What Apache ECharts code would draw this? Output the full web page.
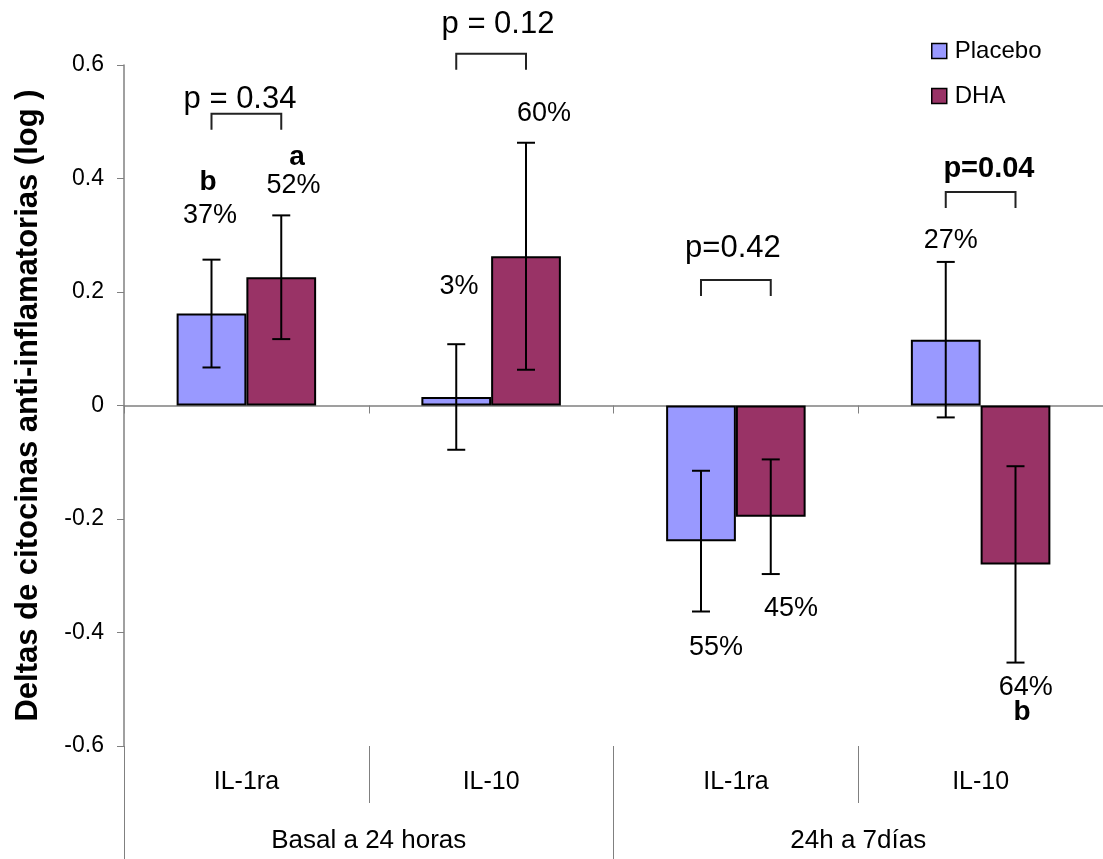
<!DOCTYPE html>
<html>
<head>
<meta charset="utf-8">
<script src="https://cdn.jsdelivr.net/npm/echarts@6/dist/echarts.min.js"></script>
<style>
  html, body { margin: 0; padding: 0; background: #fff; }
  #chart { width: 1103px; height: 859px; }
</style>
</head>
<body>
<div id="chart"></div>
<script>
// data
var cytokines = ['IL-1ra', 'IL-10', 'IL-1ra', 'IL-10'];
var periods = ['Basal a 24 horas', '24h a 7días'];
var yTicks = [-0.6, -0.4, -0.2, 0, 0.2, 0.4, 0.6];
var placebo = [0.162, 0.015, -0.239, 0.116];
var dha = [0.226, 0.263, -0.196, -0.280];
var placeboErr = [0.095, 0.093, 0.124, 0.137];
var dhaErr = [0.109, 0.200, 0.101, 0.173];
var pctPlacebo = ['37%', '3%', '55%', '27%'];
var pctDha = ['52%', '60%', '45%', '64%'];
var pValues = ['p = 0.34', 'p = 0.12', 'p=0.42', 'p=0.04'];

// annotation layout: [category, x offset (fraction of band), y value]
var pctPlaceboPos = [[0, -0.149, 0.334], [1, -0.131, 0.209], [2, -0.081, -0.427], [3, -0.122, 0.290]];
var pctDhaPos = [[0, 0.193, 0.387], [1, 0.216, 0.515], [2, 0.225, -0.358], [3, 0.184, -0.497]];
var letters = [[0, -0.157, 0.394, 'b'], [0, 0.207, 0.438, 'a'], [3, 0.169, -0.540, 'b']];
var pPos = [[0, -0.026, 0.540], [1, 0.028, 0.672], [2, -0.012, 0.276], [3, 0.034, 0.417]];
var bracketTop = [0.514, 0.620, 0.221, 0.376];

var FONT = '"Liberation Sans", Arial, sans-serif';
var HALF = 0.1425; // bar centre offset as fraction of category band

function errData(vals, errs) {
    return vals.map(function (v, i) { return [i, v - errs[i], v + errs[i]]; });
}

function errRender(side) {
    return function (params, api) {
        var band = api.size([1, 0])[0];
        var x = api.coord([api.value(0), 0])[0] + side * band * HALF;
        var yLo = api.coord([api.value(0), api.value(1)])[1];
        var yHi = api.coord([api.value(0), api.value(2)])[1];
        var st = { stroke: '#000', lineWidth: 2 };
        return {
            type: 'group',
            children: [
                { type: 'line', shape: { x1: x, y1: yHi, x2: x, y2: yLo }, style: st },
                { type: 'line', shape: { x1: x - 9, y1: yHi, x2: x + 9, y2: yHi }, style: st },
                { type: 'line', shape: { x1: x - 9, y1: yLo, x2: x + 9, y2: yLo }, style: st }
            ]
        };
    };
}

function textSeries(items, size, weight) {
    return {
        type: 'custom',
        z: 5,
        silent: true,
        data: items.map(function (it) { return [it[0], it[2], it[1], it[3]]; }),
        renderItem: function (params, api) {
            var band = api.size([1, 0])[0];
            var p = api.coord([api.value(0), api.value(1)]);
            return {
                type: 'text',
                style: {
                    x: p[0] + api.value(2) * band,
                    y: p[1],
                    text: items[params.dataIndex][3],
                    align: 'center',
                    verticalAlign: 'middle',
                    fontSize: size,
                    fontWeight: weight,
                    fontFamily: FONT,
                    fill: '#000'
                }
            };
        }
    };
}

var pctItems = pctPlaceboPos.map(function (p, i) { return [p[0], p[1], p[2], pctPlacebo[i]]; })
    .concat(pctDhaPos.map(function (p, i) { return [p[0], p[1], p[2], pctDha[i]]; }));
var pItems = pPos.map(function (p, i) { return [p[0], p[1], p[2], pValues[i]]; });

var chart = echarts.init(document.getElementById('chart'));
var option = {
    backgroundColor: '#fff',
    animation: false,
    grid: { left: 124, right: 0, top: 65, bottom: 113, outerBoundsMode: 'none' },
    legend: {
        data: ['Placebo', 'DHA'],
        orient: 'vertical',
        left: 926,
        top: 34,
        itemWidth: 15,
        itemHeight: 15,
        itemGap: 21,
        icon: 'rect',
        itemStyle: { borderColor: '#000', borderWidth: 1.5 },
        textStyle: { fontSize: 24, fontFamily: FONT, color: '#000', padding: [0, 0, 0, 3] }
    },
    xAxis: [
        {
            type: 'category',
            data: cytokines,
            position: 'bottom',
            axisLine: { show: false, onZero: false },
            axisTick: { show: true, interval: 0, length: 57, lineStyle: { color: '#808080' } },
            axisLabel: { interval: 0, margin: 24, fontSize: 25, fontFamily: FONT, color: '#000' }
        },
        {
            type: 'category',
            data: periods,
            position: 'bottom',
            axisLine: { show: false, onZero: false },
            axisTick: { show: true, interval: 0, length: 113, lineStyle: { color: '#808080' } },
            axisLabel: { interval: 0, margin: 82, fontSize: 26, fontFamily: FONT, color: '#000' }
        },
        {
            type: 'category',
            data: cytokines,
            position: 'bottom',
            axisLine: { show: true, onZero: true, lineStyle: { color: '#808080', width: 1.5 } },
            axisTick: { show: true, interval: 0, length: 8, lineStyle: { color: '#808080' } },
            axisLabel: { show: false }
        }
    ],
    yAxis: {
        type: 'value',
        min: yTicks[0],
        max: yTicks[yTicks.length - 1],
        interval: 0.2,
        name: 'Deltas de citocinas anti-inflamatorias (log )',
        nameLocation: 'middle',
        nameGap: 80,
        nameTextStyle: { fontSize: 31, fontWeight: 'bold', fontFamily: FONT, color: '#000' },
        axisLine: { show: true, lineStyle: { color: '#808080', width: 1.5 } },
        axisTick: { show: true, length: 7, lineStyle: { color: '#808080' } },
        axisLabel: { margin: 20, fontSize: 23, fontFamily: FONT, color: '#000' },
        splitLine: { show: false }
    },
    series: [
        {
            name: 'Placebo',
            type: 'bar',
            data: placebo,
            barGap: '0%',
            barCategoryGap: '43%',
            itemStyle: { color: '#9999FF', borderColor: '#000', borderWidth: 2 }
        },
        {
            name: 'DHA',
            type: 'bar',
            data: dha,
            barGap: '0%',
            barCategoryGap: '43%',
            itemStyle: { color: '#993366', borderColor: '#000', borderWidth: 2 }
        },
        { type: 'custom', z: 4, silent: true, data: errData(placebo, placeboErr), renderItem: errRender(-1) },
        { type: 'custom', z: 4, silent: true, data: errData(dha, dhaErr), renderItem: errRender(1) },
        {
            type: 'custom',
            z: 4,
            silent: true,
            data: bracketTop.map(function (v, i) { return [i, v]; }),
            renderItem: function (params, api) {
                var band = api.size([1, 0])[0];
                var c = api.coord([api.value(0), api.value(1)]);
                var x1 = c[0] - band * HALF, x2 = c[0] + band * HALF, y = c[1];
                return {
                    type: 'polyline',
                    shape: { points: [[x1, y + 16], [x1, y], [x2, y], [x2, y + 16]] },
                    style: { stroke: '#222', lineWidth: 2, fill: null }
                };
            }
        },
        textSeries(pctItems, 27, 'normal'),
        textSeries(letters, 28, 'bold'),
        textSeries(pItems.slice(0, 3), 31, 'normal'),
        textSeries(pItems.slice(3), 29, 'bold')
    ]
};
chart.setOption(option);
</script>
</body>
</html>
